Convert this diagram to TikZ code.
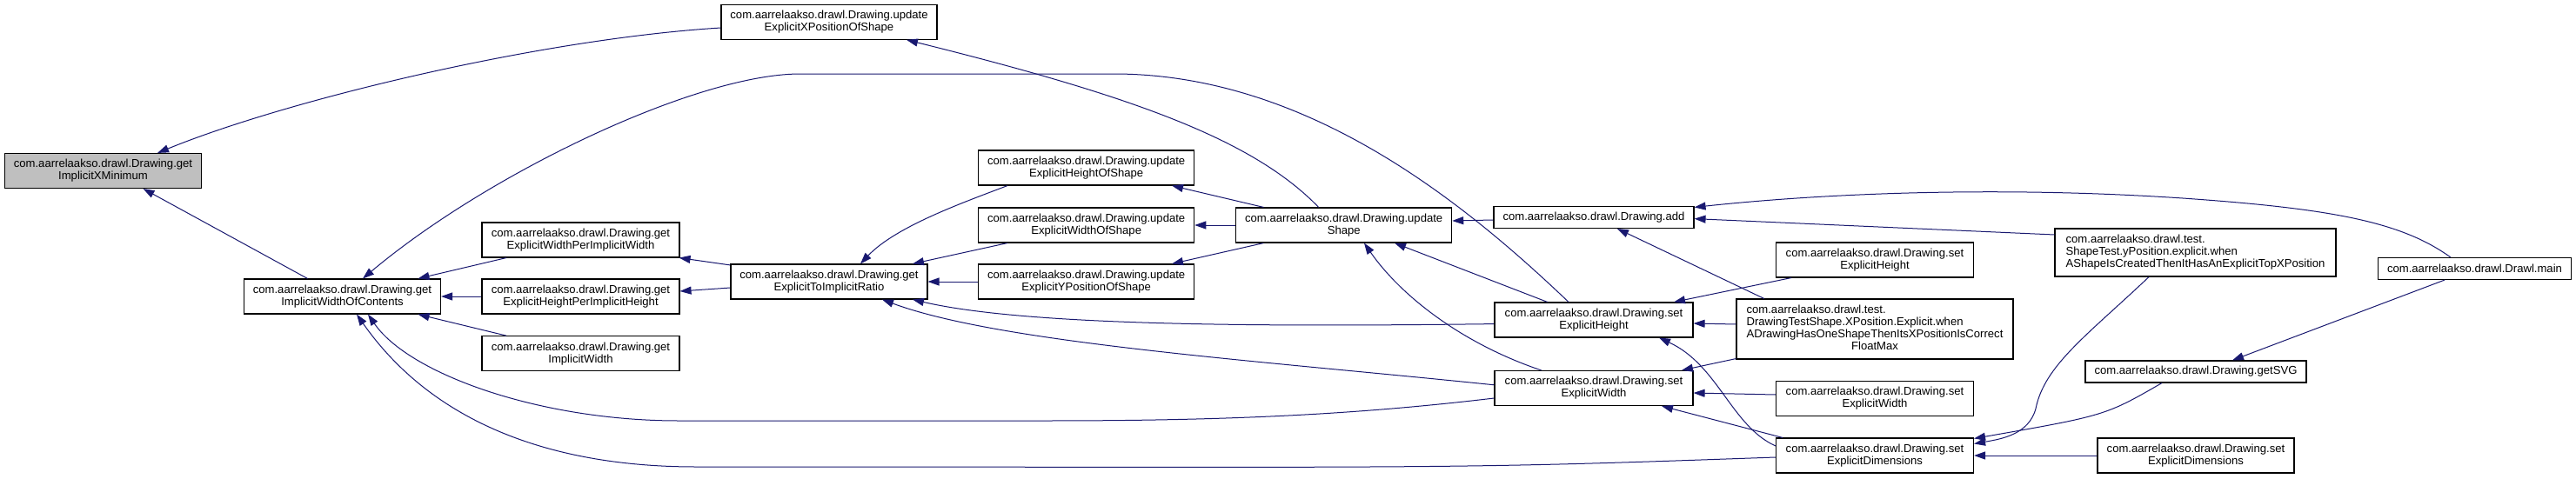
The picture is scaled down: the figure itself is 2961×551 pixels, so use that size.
\documentclass[tikz,border=0pt]{standalone}
\usepackage{fontspec}
\setmainfont{Liberation Sans}
\usetikzlibrary{arrows.meta}
\definecolor{navyc}{HTML}{191970}
\definecolor{grayfill}{HTML}{BFBFBF}
\begin{document}
\begin{tikzpicture}[x=1pt,y=-1pt,
  nbox/.style={draw=black, line width=1.1pt, fill=white, inner sep=0pt, align=center,
    font=\fontsize{13.1}{14}\selectfont, minimum height=40pt},
  callarrow/.style={draw=navyc, line width=1pt, -{Triangle[length=13pt,width=9pt]}}]
\fill[white] (0,0) rectangle (2961,551);
\useasboundingbox (0,0) rectangle (2961,551);

% nodes
\node[nbox, fill=grayfill, minimum width=226pt] (ixm) at (118.5,196.5) {com.aarrelaakso.drawl.Drawing.get\\ImplicitXMinimum};
\node[nbox, minimum width=248pt] (uexpos) at (953,25.3) {com.aarrelaakso.drawl.Drawing.update\\ExplicitXPositionOfShape};
\node[nbox, minimum width=226pt] (iwoc) at (393.5,341) {com.aarrelaakso.drawl.Drawing.get\\ImplicitWidthOfContents};
\node[nbox, minimum width=227pt] (ewpiw) at (667.5,276) {com.aarrelaakso.drawl.Drawing.get\\ExplicitWidthPerImplicitWidth};
\node[nbox, minimum width=227pt] (ehpih) at (667.5,341) {com.aarrelaakso.drawl.Drawing.get\\ExplicitHeightPerImplicitHeight};
\node[nbox, minimum width=227pt] (giw) at (667.5,406.7) {com.aarrelaakso.drawl.Drawing.get\\ImplicitWidth};
\node[nbox, minimum width=226pt] (etoir) at (953,324) {com.aarrelaakso.drawl.Drawing.get\\ExplicitToImplicitRatio};
\node[nbox, minimum width=248pt] (uehos) at (1248.7,193) {com.aarrelaakso.drawl.Drawing.update\\ExplicitHeightOfShape};
\node[nbox, minimum width=248pt] (uewos) at (1248.7,259) {com.aarrelaakso.drawl.Drawing.update\\ExplicitWidthOfShape};
\node[nbox, minimum width=248pt] (ueypos) at (1248.7,324) {com.aarrelaakso.drawl.Drawing.update\\ExplicitYPositionOfShape};
\node[nbox, minimum width=248pt] (ushape) at (1544.7,259) {com.aarrelaakso.drawl.Drawing.update\\Shape};
\node[nbox, minimum width=230pt, minimum height=25pt] (add) at (1832,250) {com.aarrelaakso.drawl.Drawing.add};
\node[nbox, minimum width=228pt] (seh) at (1832,368) {com.aarrelaakso.drawl.Drawing.set\\ExplicitHeight};
\node[nbox, minimum width=228pt] (sew) at (1832,446.5) {com.aarrelaakso.drawl.Drawing.set\\ExplicitWidth};
\node[nbox, minimum width=227pt] (tseh) at (2155,299) {com.aarrelaakso.drawl.Drawing.set\\ExplicitHeight};
\node[nbox, minimum width=318pt, minimum height=69pt] (dts) at (2155,378.5) {\begin{tabular}{@{}l@{}}com.aarrelaakso.drawl.test.\\DrawingTestShape.XPosition.Explicit.when\\ADrawingHasOneShapeThenItsXPositionIsCorrect\\\multicolumn{1}{@{}c@{}}{FloatMax}\end{tabular}};
\node[nbox, minimum width=227pt] (tsew) at (2155,458.5) {com.aarrelaakso.drawl.Drawing.set\\ExplicitWidth};
\node[nbox, minimum width=227pt] (sed) at (2155,524) {com.aarrelaakso.drawl.Drawing.set\\ExplicitDimensions};
\node[nbox, minimum width=323pt, minimum height=55pt] (shapetest) at (2523.5,290.5) {\begin{tabular}{@{}l@{}}com.aarrelaakso.drawl.test.\\ShapeTest.yPosition.explicit.when\\AShapeIsCreatedThenItHasAnExplicitTopXPosition\end{tabular}};
\node[nbox, minimum width=254pt, minimum height=25pt] (getsvg) at (2524,427.5) {com.aarrelaakso.drawl.Drawing.getSVG};
\node[nbox, minimum width=226pt] (sed2) at (2524,524) {com.aarrelaakso.drawl.Drawing.set\\ExplicitDimensions};
\node[nbox, minimum width=222pt, minimum height=25pt] (main) at (2844.5,309) {com.aarrelaakso.drawl.Drawl.main};

% edges (caller -> callee, arrow at callee)
\draw[callarrow] ([yshift=-6.7pt]uexpos.west) .. controls (620,45) and (330,115) .. ([xshift=62.5pt]ixm.north);
\draw[callarrow] ([xshift=-40pt]iwoc.north) -- ([xshift=46pt]ixm.south);
\draw[callarrow] ([xshift=-29pt]seh.north) .. controls (1680,230) and (1500,85) .. (1280,85) -- (920,85) .. controls (800,85) and (560,200) .. ([xshift=23.5pt]iwoc.north);
\draw[callarrow] ([xshift=-29pt]ushape.north) .. controls (1440,160) and (1300,110) .. ([xshift=89pt]uexpos.south);
\draw[callarrow] ([xshift=-85.5pt]ewpiw.south) -- ([xshift=87pt]iwoc.north);
\draw[callarrow] (ehpih.west) -- (iwoc.east);
\draw[callarrow] ([xshift=-85.5pt]giw.north) -- ([xshift=87pt]iwoc.south);
\draw[callarrow] ([yshift=-11.5pt]sew.west) .. controls (1550,478) and (1400,484) .. (1200,484) -- (780,484) .. controls (620,484) and (470,430) .. ([xshift=29.5pt]iwoc.south);
\draw[callarrow] ([yshift=-2pt]sed.west) .. controls (1700,538) .. (1000,537) -- (800,537) .. controls (640,537) and (500,490) .. ([xshift=16.5pt]iwoc.south);
\draw[callarrow] ([yshift=-1.5pt]etoir.north west) -- ([xshift=-1pt]ewpiw.south east);
\draw[callarrow] ([yshift=-7pt]etoir.west) -- ([yshift=6pt]ehpih.east);
\draw[callarrow] ([xshift=-90.7pt]uehos.south) .. controls (1110,232) and (1030,260) .. ([xshift=36pt]etoir.north);
\draw[callarrow] ([xshift=-90.7pt]uewos.south) -- ([xshift=96pt]etoir.north);
\draw[callarrow] (ueypos.west) -- (etoir.east);
\draw[callarrow] ([yshift=-4.6pt]seh.west) .. controls (1450,376) and (1180,375) .. ([xshift=96pt]etoir.south);
\draw[callarrow] ([yshift=3.7pt]sew.west) .. controls (1450,415) and (1150,395) .. ([xshift=61pt]etoir.south);
\draw[callarrow] ([xshift=-92.2pt]ushape.north) -- ([xshift=98.3pt]uehos.south);
\draw[callarrow] (ushape.west) -- (uewos.east);
\draw[callarrow] ([xshift=-92.2pt]ushape.south) -- ([xshift=98.3pt]ueypos.north);
\draw[callarrow] ([yshift=-3pt]add.west) -- ([yshift=5pt]ushape.east);
\draw[callarrow] ([xshift=-53.3pt]seh.north) -- ([xshift=58.3pt]ushape.south);
\draw[callarrow] ([xshift=-60.4pt]sew.north) .. controls (1680,395) and (1610,340) .. ([xshift=23.3pt]ushape.south);
\draw[callarrow] ([xshift=-127.3pt]dts.north) -- ([xshift=27pt]add.south);
\draw[callarrow] ([xshift=-96pt]tseh.south) -- ([xshift=92pt]seh.north);
\draw[callarrow] ([yshift=5.5pt]dts.west) -- ([yshift=-4pt]seh.east);
\draw[callarrow] ([yshift=1pt]dts.south west) -- ([xshift=101pt]sew.north);
\draw[callarrow] ([yshift=4.5pt]tsew.west) -- ([yshift=-5.5pt]sew.east);
\draw[callarrow] ([xshift=-106pt]sed.north) -- ([xshift=78pt]sew.south);
\draw[callarrow] ([yshift=11pt]sed.west) .. controls (1990,490) and (1975,420) .. ([xshift=75pt]seh.south);
\draw[callarrow] ([yshift=20.5pt]shapetest.west) -- ([yshift=-1.6pt]add.east);
\draw[callarrow] ([xshift=-27.7pt]main.north) .. controls (2760,255) and (2680,240) .. (2509,228) .. controls (2300,214) and (2100,222) .. ([yshift=-1.5pt]add.north east);
\draw[callarrow] ([xshift=-53.5pt]shapetest.south) .. controls (2400,385) and (2350,420) .. (2340,470) .. controls (2332,500) and (2300,505) .. ([yshift=13.5pt]sed.east);
\draw[callarrow] ([xshift=-39pt]getsvg.south) .. controls (2420,478) .. ([yshift=-1pt]sed.north east);
\draw[callarrow] ([xshift=-34.5pt]main.south) -- ([xshift=42pt]getsvg.north);
\draw[callarrow] (sed2.west) -- (sed.east);
\end{tikzpicture}
\end{document}
